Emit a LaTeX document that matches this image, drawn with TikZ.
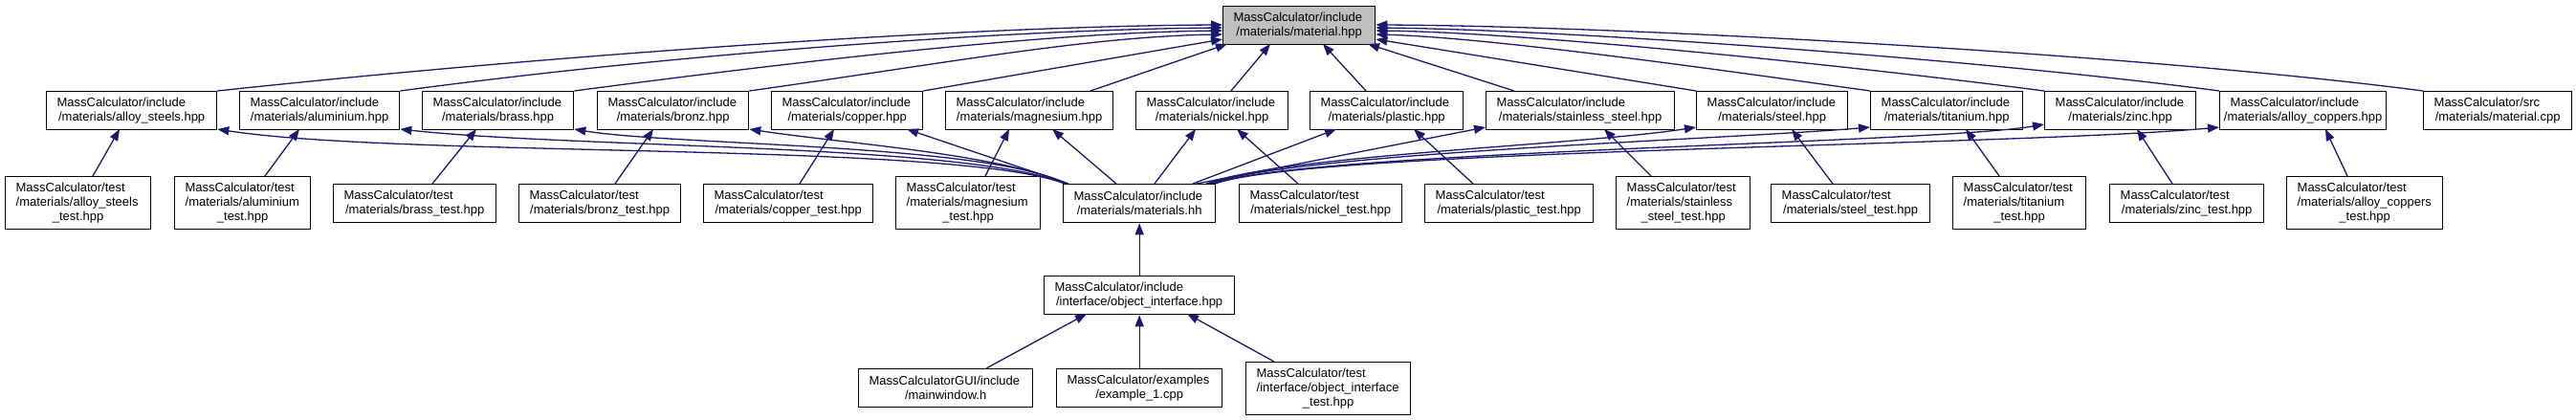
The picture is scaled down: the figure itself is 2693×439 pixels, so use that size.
\documentclass[tikz,border=0pt]{standalone}
\usepackage{fontspec}
\setmainfont{Liberation Sans}
\usetikzlibrary{arrows.meta,calc}
\definecolor{mblue}{RGB}{25,25,112}
\definecolor{topfill}{RGB}{191,191,191}
\newcommand{\cl}[1]{\makebox[\linewidth][c]{#1}}
\begin{document}
\begin{tikzpicture}[x=1pt,y=-1pt,
  box/.style={draw=black, line width=1.3pt, rectangle, inner sep=0pt, anchor=north west,
    font=\fontsize{13pt}{15pt}\selectfont, align=left, fill=white},
  twol/.style={box, minimum width=#1, minimum height=40pt, text width=#1-22pt},
  threel/.style={box, minimum width=#1, minimum height=55pt, text width=#1-22pt},
  edge/.style={draw=mblue, line width=1.3pt, -{Triangle[length=12pt,width=9pt]}}]
\fill[white] (0,0) rectangle (2693,439);
\useasboundingbox (0,0) rectangle (2693,439);

% top node
\node[twol=159pt, fill=topfill] (top) at (1278,6) {MassCalculator/include\\\cl{/materials/material.hpp}};

% row 1
\node[twol=178pt] (as) at (48,95) {MassCalculator/include\\\cl{/materials/alloy\_steels.hpp}};
\node[twol=167pt] (al) at (250,95) {MassCalculator/include\\\cl{/materials/aluminium.hpp}};
\node[twol=158pt] (br) at (441,95) {MassCalculator/include\\\cl{/materials/brass.hpp}};
\node[twol=158pt] (bz) at (624,95) {MassCalculator/include\\\cl{/materials/bronz.hpp}};
\node[twol=158pt] (cu) at (806,95) {MassCalculator/include\\\cl{/materials/copper.hpp}};
\node[twol=175pt] (mg) at (988,95) {MassCalculator/include\\\cl{/materials/magnesium.hpp}};
\node[twol=159pt] (ni) at (1187,95) {MassCalculator/include\\\cl{/materials/nickel.hpp}};
\node[twol=160pt] (pl) at (1369,95) {MassCalculator/include\\\cl{/materials/plastic.hpp}};
\node[twol=197pt] (ss) at (1553,95) {MassCalculator/include\\\cl{/materials/stainless\_steel.hpp}};
\node[twol=158pt] (st) at (1773,95) {MassCalculator/include\\\cl{/materials/steel.hpp}};
\node[twol=159pt] (ti) at (1955,95) {MassCalculator/include\\\cl{/materials/titanium.hpp}};
\node[twol=158pt] (zn) at (2137,95) {MassCalculator/include\\\cl{/materials/zinc.hpp}};
\node[twol=174pt] (ac) at (2320,95) {MassCalculator/include\\\cl{/materials/alloy\_coppers.hpp}};
\node[twol=155pt] (src) at (2533,95) {MassCalculator/src\\\cl{/materials/material.cpp}};

% row 2
\node[threel=152pt] (tas) at (5,184) {MassCalculator/test\\/materials/alloy\_steels\\\cl{\_test.hpp}};
\node[threel=142pt] (tal) at (182,184) {MassCalculator/test\\/materials/aluminium\\\cl{\_test.hpp}};
\node[twol=170pt] (tbr) at (348,192) {MassCalculator/test\\\cl{/materials/brass\_test.hpp}};
\node[twol=169pt] (tbz) at (542,192) {MassCalculator/test\\\cl{/materials/bronz\_test.hpp}};
\node[twol=177pt] (tcu) at (735,192) {MassCalculator/test\\\cl{/materials/copper\_test.hpp}};
\node[threel=151pt] (tmg) at (936,184) {MassCalculator/test\\/materials/magnesium\\\cl{\_test.hpp}};
\node[twol=159pt] (mh) at (1111,192) {MassCalculator/include\\\cl{/materials/materials.hh}};
\node[twol=170pt] (tni) at (1295,192) {MassCalculator/test\\\cl{/materials/nickel\_test.hpp}};
\node[twol=176pt] (tpl) at (1489,192) {MassCalculator/test\\\cl{/materials/plastic\_test.hpp}};
\node[threel=140pt] (tss) at (1689,184) {MassCalculator/test\\/materials/stainless\\\cl{\_steel\_test.hpp}};
\node[twol=166pt] (tst) at (1851,192) {MassCalculator/test\\\cl{/materials/steel\_test.hpp}};
\node[threel=139pt] (tti) at (2041,184) {MassCalculator/test\\/materials/titanium\\\cl{\_test.hpp}};
\node[twol=161pt] (tzn) at (2205,192) {MassCalculator/test\\\cl{/materials/zinc\_test.hpp}};
\node[threel=163pt] (tac) at (2390,184) {MassCalculator/test\\/materials/alloy\_coppers\\\cl{\_test.hpp}};

% row 3 and 4
\node[twol=199pt] (oi) at (1091,288) {MassCalculator/include\\\cl{/interface/object\_interface.hpp}};
\node[twol=182pt] (mw) at (897,385) {MassCalculatorGUI/include\\\cl{/mainwindow.h}};
\node[twol=173pt] (ex) at (1104,385) {MassCalculator/examples\\\cl{/example\_1.cpp}};
\node[threel=172pt] (ot) at (1302,378) {MassCalculator/test\\/interface/object\_interface\\\cl{\_test.hpp}};

% row 1 -> top
\draw[edge] (as.north east) .. controls +(374,-40) and +(-250,1) .. ($(top.north west)+(0,20)$);
\draw[edge] (al.north east) .. controls +(300,-40) and +(-220,2) .. ($(top.north west)+(0,23)$);
\draw[edge] (br.north east) .. controls +(250,-33) and +(-180,2) .. ($(top.north west)+(0,26)$);
\draw[edge] (bz.north east) .. controls +(200,-28) and +(-140,2) .. ($(top.north west)+(0,30)$);
\draw[edge] (cu.north east) -- ($(top.north west)+(0,35)$);
\draw[edge] ($(mg.north west)+(152,0)$) -- ($(top.north west)+(5,40)$);
\draw[edge] ($(ni.north west)+(100,0)$) -- ($(top.north west)+(50,40)$);
\draw[edge] ($(pl.north west)+(59,0)$) -- ($(top.north west)+(105,40)$);
\draw[edge] ($(ss.north west)+(30,0)$) -- ($(top.north west)+(152,40)$);
\draw[edge] (st.north west) -- ($(top.north east)+(0,35)$);
\draw[edge] (ti.north west) .. controls +(-150,-21) and +(120,3) .. ($(top.north east)+(0,30)$);
\draw[edge] (zn.north west) .. controls +(-200,-26) and +(160,2) .. ($(top.north east)+(0,26)$);
\draw[edge] (ac.north west) .. controls +(-250,-33) and +(200,2) .. ($(top.north east)+(0,23)$);
\draw[edge] (src.north west) .. controls +(-300,-39) and +(250,1) .. ($(top.north east)+(0,20)$);

% materials.hh -> row 1
\draw[edge] ($(mh.north west)+(2,0)$) .. controls +(-113,-44) and +(194,30) .. ($(as.north east)+(0,40)$);
\draw[edge] ($(mh.north west)+(3,0)$) .. controls +(-104,-42) and +(183,20) .. ($(al.north east)+(0,40)$);
\draw[edge] ($(mh.north west)+(4,0)$) .. controls +(-85,-42) and +(101,17) .. ($(br.north east)+(0,40)$);
\draw[edge] ($(mh.north west)+(5,0)$) .. controls +(-76,-32) and +(98,15) .. ($(bz.north east)+(0,40)$);
\draw[edge] ($(mh.north west)+(6,0)$) -- ($(cu.north west)+(142,40)$);
\draw[edge] ($(mh.north west)+(56,0)$) -- ($(mg.north west)+(112,40)$);
\draw[edge] ($(mh.north west)+(96,0)$) -- ($(ni.north west)+(63,40)$);
\draw[edge] ($(mh.north west)+(136,0)$) -- ($(pl.north west)+(28,40)$);
\draw[edge] ($(mh.north west)+(140,0)$) -- ($(ss.north west)+(0,38)$);
\draw[edge] ($(mh.north east)+(-10,0)$) .. controls +(80,-30) and +(-123,19) .. ($(st.north west)+(0,38)$);
\draw[edge] ($(mh.north east)+(-7,0)$) .. controls +(87,-32) and +(-155,13) .. ($(ti.north west)+(0,38)$);
\draw[edge] ($(mh.north east)+(-4,0)$) .. controls +(94,-34) and +(-118,20) .. ($(zn.north west)+(0,35)$);
\draw[edge] ($(mh.north east)+(-1,0)$) .. controls +(101,-36) and +(-220,20) .. ($(ac.north west)+(0,38)$);

% tests -> row 1
\draw[edge] ($(tas.north west)+(92,0)$) -- ($(as.north west)+(77,40)$);
\draw[edge] ($(tal.north west)+(95,0)$) -- ($(al.north west)+(63,40)$);
\draw[edge] ($(tbr.north west)+(104,0)$) -- ($(br.north west)+(57,40)$);
\draw[edge] ($(tbz.north west)+(101,0)$) -- ($(bz.north west)+(59,40)$);
\draw[edge] ($(tcu.north west)+(101,0)$) -- ($(cu.north west)+(66,40)$);
\draw[edge] ($(tmg.north west)+(94,0)$) -- ($(mg.north west)+(67,40)$);
\draw[edge] ($(tni.north west)+(62,0)$) -- ($(ni.north west)+(106,40)$);
\draw[edge] ($(tpl.north west)+(51,0)$) -- ($(pl.north west)+(109,40)$);
\draw[edge] ($(tss.north west)+(37,0)$) -- ($(ss.north west)+(124,40)$);
\draw[edge] ($(tst.north west)+(65,0)$) -- ($(st.north west)+(100,40)$);
\draw[edge] ($(tti.north west)+(49,0)$) -- ($(ti.north west)+(100,40)$);
\draw[edge] ($(tzn.north west)+(66,0)$) -- ($(zn.north west)+(97,40)$);
\draw[edge] ($(tac.north west)+(64,0)$) -- ($(ac.north west)+(111,40)$);

% lower part
\draw[edge] (oi.north) -- (mh.south);
\draw[edge] ($(mw.north west)+(134,0)$) -- ($(oi.north west)+(45,40)$);
\draw[edge] (ex.north) -- (oi.south);
\draw[edge] ($(ot.north west)+(30,0)$) -- ($(oi.north west)+(150,40)$);
\end{tikzpicture}
\end{document}
